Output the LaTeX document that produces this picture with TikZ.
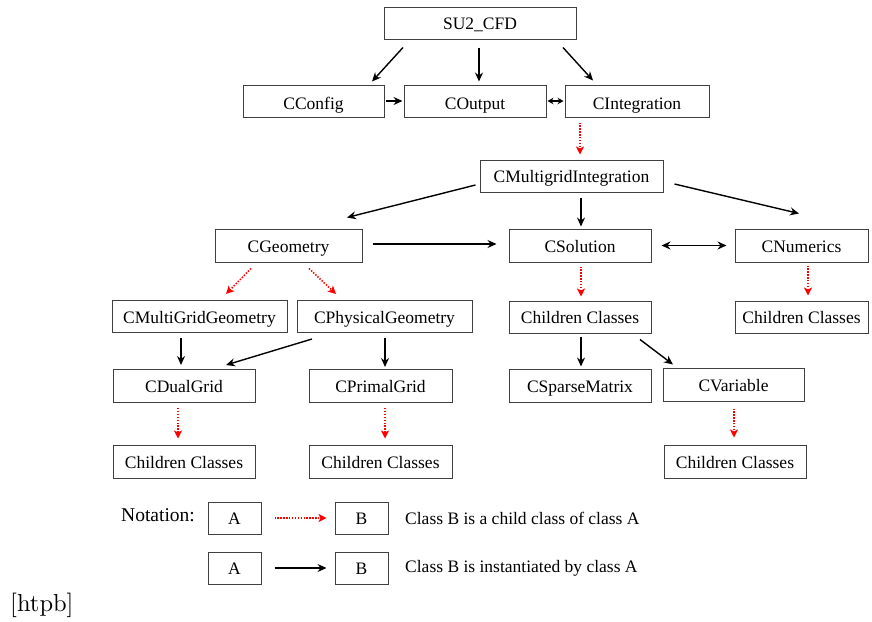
\documentclass[tikz,border=0pt]{standalone}
\usepackage{fontspec}
\newfontfamily\tnr{Liberation Serif}
\newfontfamily\lmten[Extension=.otf]{lmroman10-regular}
\usetikzlibrary{arrows.meta}
\begin{document}
\begin{tikzpicture}[x=1pt,y=-1pt,
  box/.style={draw=black!75, line width=1pt, minimum height=32pt, inner sep=0pt, text height=15pt, text depth=2pt, font=\tnr\fontsize{17.5}{20}\selectfont},
  top/.style={text height=19pt, text depth=2pt},
  arr/.style={line width=1.4pt, -{Stealth[length=9pt,width=8pt,inset=3pt]}},
  darr/.style={line width=1.4pt, {Stealth[length=9pt,width=8pt,inset=3pt]}-{Stealth[length=9pt,width=8pt,inset=3pt]}},
  sdarr/.style={line width=1.4pt, {Stealth[length=6pt,width=6.5pt,inset=2pt]}-{Stealth[length=6pt,width=6.5pt,inset=2pt]}},
  inh/.style={red, line width=1.6pt, dash pattern=on 1.4pt off 1.5pt, -{Stealth[length=8pt,width=8pt,inset=2pt]}},
  txt/.style={font=\tnr\fontsize{17.5}{20}\selectfont, inner sep=0pt}]
\useasboundingbox (0,0) rectangle (872,621);
% boxes
\node[box, minimum width=192pt] (su2) at (480,23) {SU2\_CFD};
\node[box, top, minimum width=141pt] (cconfig) at (313.5,101) {CConfig};
\node[box, top, minimum width=142pt] (coutput) at (475,101) {COutput};
\node[box, top, minimum width=144pt] (cinteg) at (637,101) {CIntegration};
\node[box, minimum width=183pt] (cmi) at (571.5,176) {CMultigridIntegration};
\node[box, minimum width=147pt, minimum height=33pt] (cgeo) at (288.5,245.5) {CGeometry};
\node[box, minimum width=142pt, minimum height=33pt] (csol) at (580,245.5) {CSolution};
\node[box, minimum width=133pt, minimum height=33pt] (cnum) at (801.5,245.5) {CNumerics};
\node[box, minimum width=175pt] (cmgg) at (199.5,316.5) {CMultiGridGeometry};
\node[box, minimum width=175pt] (cphys) at (384.5,316.5) {CPhysicalGeometry};
\node[box, minimum width=142pt] (chsol) at (580,317) {Children Classes};
\node[box, minimum width=133pt] (chnum) at (801.5,317) {Children Classes};
\node[box, minimum width=142pt, minimum height=33pt] (cdual) at (184,386) {CDualGrid};
\node[box, minimum width=143pt, minimum height=33pt] (cprimal) at (380.5,386) {CPrimalGrid};
\node[box, minimum width=142pt, minimum height=33pt] (csparse) at (580,385.5) {CSparseMatrix};
\node[box, minimum width=141pt, minimum height=33pt] (cvar) at (733.5,384.5) {CVariable};
\node[box, minimum width=142pt, minimum height=33pt] (chdual) at (184,461.5) {Children Classes};
\node[box, minimum width=143pt, minimum height=33pt] (chprimal) at (380.5,461.5) {Children Classes};
\node[box, minimum width=142pt, minimum height=33pt] (chvar) at (735,461.5) {Children Classes};
% legend
\node[box, minimum width=53pt] (la1) at (234.5,518) {A};
\node[box, minimum width=53pt] (lb1) at (361.5,518) {B};
\node[box, minimum width=53pt] (la2) at (234.5,568) {A};
\node[box, minimum width=53pt] (lb2) at (361.5,568) {B};
\node[txt, anchor=west, font=\tnr\fontsize{19.5}{22}\selectfont] (nota) at (121,515) {Notation:};
\node[txt, anchor=west] (t1) at (405,518) {Class B is a child class of class A};
\node[txt, anchor=west] (t2) at (405,568) {Class B is instantiated by class A};
\node[inner sep=0pt, anchor=base west, font=\lmten\fontsize{24.5}{28}\selectfont] (htpb) at (10,611) {[htpb]};
% connectors
\draw[arr] ([xshift=-77pt,yshift=-8pt]su2.south) -- ([xshift=58.5pt,yshift=3pt]cconfig.north);
\draw[arr] ([xshift=-1pt,yshift=-8pt]su2.south) -- ([xshift=4pt,yshift=3pt]coutput.north);
\draw[arr] ([xshift=83pt,yshift=-8pt]su2.south) -- ([xshift=-44pt,yshift=4pt]cinteg.north);
\draw[arr] ([xshift=1pt]cconfig.east) -- ([xshift=-1pt]coutput.west);
\draw[sdarr] ([xshift=1pt]coutput.east) -- ([xshift=-1pt]cinteg.west);
\draw[inh] ([xshift=-57pt,yshift=-5pt]cinteg.south) -- ([xshift=8.5pt,yshift=5pt]cmi.north);
\draw[arr] ([xshift=-4pt,yshift=-9pt]cmi.west) -- ([xshift=58.5pt,yshift=11pt]cgeo.north);
\draw[arr] ([xshift=9.5pt,yshift=-5pt]cmi.south) -- ([xshift=1pt,yshift=2pt]csol.north);
\draw[arr] ([xshift=11pt,yshift=-8pt]cmi.east) -- ([xshift=-2.5pt,yshift=15pt]cnum.north);
\draw[arr] ([xshift=10pt,yshift=1.5pt]cgeo.east) -- ([xshift=-12pt,yshift=1.5pt]csol.west);
\draw[darr] ([xshift=10pt]csol.east) -- ([xshift=-8pt]cnum.west);
\draw[inh] ([xshift=1pt,yshift=-4pt]csol.south) -- ([xshift=1pt,yshift=4pt]chsol.north);
\draw[inh] ([xshift=6.5pt,yshift=-3pt]cnum.south) -- ([xshift=6.5pt,yshift=5pt]chnum.north);
\draw[inh] ([xshift=-37.5pt,yshift=-6pt]cgeo.south) -- ([xshift=26.5pt,yshift=6pt]cmgg.north);
\draw[inh] ([xshift=20.5pt,yshift=-6pt]cgeo.south) -- ([xshift=-48.5pt,yshift=6pt]cphys.north);
\draw[arr] ([xshift=1pt,yshift=-3pt]chsol.south) -- ([xshift=1pt,yshift=2pt]csparse.north);
\draw[arr] ([xshift=60pt,yshift=-6pt]chsol.south) -- ([xshift=-60.5pt,yshift=3pt]cvar.north);
\draw[inh] ([xshift=0.5pt,yshift=-7pt]cvar.south) -- ([xshift=-1pt,yshift=7pt]chvar.north);
\draw[arr] ([xshift=-18.5pt,yshift=-5pt]cmgg.south) -- ([xshift=-3pt,yshift=4pt]cdual.north);
\draw[arr] ([xshift=-72.5pt,yshift=-6pt]cphys.south) -- ([xshift=42pt,yshift=4pt]cdual.north);
\draw[arr] ([xshift=0.5pt,yshift=-5pt]cphys.south) -- ([xshift=4.5pt,yshift=2pt]cprimal.north);
\draw[inh] ([xshift=-6pt,yshift=-5pt]cdual.south) -- ([xshift=-6pt,yshift=6pt]chdual.north);
\draw[inh] ([xshift=4.5pt,yshift=-5pt]cprimal.south) -- ([xshift=4.5pt,yshift=6pt]chprimal.north);
\draw[inh] ([xshift=13pt]la1.east) -- ([xshift=-8pt]lb1.west);
\draw[arr] ([xshift=13pt]la2.east) -- ([xshift=-8pt]lb2.west);
\end{tikzpicture}
\end{document}
